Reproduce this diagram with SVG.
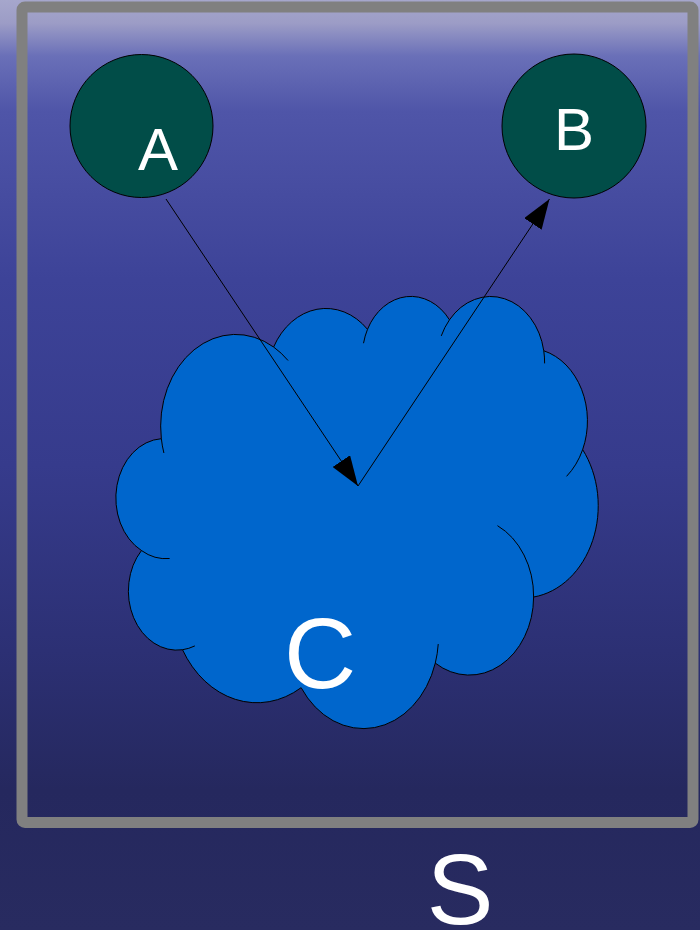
<svg xmlns="http://www.w3.org/2000/svg" width="700" height="930" viewBox="0 0 700 930">
  <defs>
    <linearGradient id="bg" x1="0" y1="0" x2="0" y2="1">
      <stop offset="0" stop-color="#a6a7cc"/>
      <stop offset="0.025" stop-color="#9c9cc6"/>
      <stop offset="0.06" stop-color="#6a70b8"/>
      <stop offset="0.12" stop-color="#4f55a8"/>
      <stop offset="0.3" stop-color="#3d4398"/>
      <stop offset="0.5" stop-color="#363b8c"/>
      <stop offset="0.7" stop-color="#2c3074"/>
      <stop offset="0.85" stop-color="#25285e"/>
      <stop offset="1" stop-color="#282b60"/>
    </linearGradient>
    <marker id="arrow" markerUnits="userSpaceOnUse" markerWidth="30" markerHeight="21" refX="30" refY="10.5" orient="auto" viewBox="0 0 30 21">
      <path d="M0,0 L30,10.5 L0,21 Z" fill="#000"/>
    </marker>
    <style>
      .node { fill: #014d48; stroke: #000; stroke-width: 1; }
      .label { fill: #fff; font-family: "Liberation Sans", Arial, sans-serif; text-anchor: middle; }
      .conn { stroke: #000; stroke-width: 1; fill: none; marker-end: url(#arrow); }
      .cloud { fill: #0066cc; stroke: #000; stroke-width: 1; }
      .hook { fill: none; stroke: #000; stroke-width: 1; }
    </style>
  </defs>
  <rect x="0" y="0" width="700" height="930" fill="url(#bg)"/>

  <g id="S">
    <rect x="22" y="7" width="671" height="815.5" rx="3" fill="none" stroke="#808080" stroke-width="11"/>
    <text class="label" x="460" y="924" font-size="100">S</text>
  </g>

  <g id="C">
    <path class="cloud" d="M161.33,438.70 A75.03,91.90 0 0 1 273.61,347.02 A59.26,72.67 0 0 1 367.51,329.32 A48.50,59.45 0 0 1 449.48,319.81 A53.97,65.95 0 0 1 543.76,350.76 A59.26,72.73 0 0 1 582.65,449.60 A75.28,92.20 0 0 1 533.61,597.03 A64.28,78.67 0 0 1 435.29,663.13 A75.02,92.15 0 0 1 301.13,687.68 A85.78,105.43 0 0 1 182.50,649.73 A48.44,59.18 0 0 1 141.47,550.54 A48.28,59.45 0 0 1 161.33,438.70 Z"/>
    <path class="hook" d="M273.61,347.02 A75.03,91.90 0 0 1 288.06,360.51 M363.52,343.21 A48.50,59.45 0 0 1 367.51,329.32 M441.24,335.93 A53.97,65.95 0 0 1 449.48,319.81 M543.76,350.76 A53.97,65.95 0 0 1 544.61,363.40 M582.65,449.60 A59.26,72.73 0 0 1 566.56,476.35 M497.48,525.67 A64.28,78.67 0 0 1 533.61,597.03 M438.24,644.04 A75.02,92.15 0 0 1 435.29,663.13 M194.83,645.91 A48.44,59.18 0 0 1 182.50,649.73 M169.61,558.50 A48.28,59.45 0 0 1 141.47,550.54 M163.9,453.0 A75.03,91.90 0 0 1 161.33,438.70"/>
    <text class="label" x="320" y="688" font-size="100">C</text>
  </g>

  <g id="A">
    <circle class="node" cx="141.5" cy="126" r="71.5"/>
    <text class="label" x="158" y="170" font-size="60">A</text>
  </g>

  <g id="B">
    <circle class="node" cx="574" cy="126" r="72"/>
    <text class="label" x="574" y="150" font-size="60">B</text>
  </g>

  <g id="connectors">
    <line class="conn" x1="166" y1="199" x2="358" y2="486"/>
    <line class="conn" x1="358" y1="486" x2="549.5" y2="199"/>
  </g>
</svg>
